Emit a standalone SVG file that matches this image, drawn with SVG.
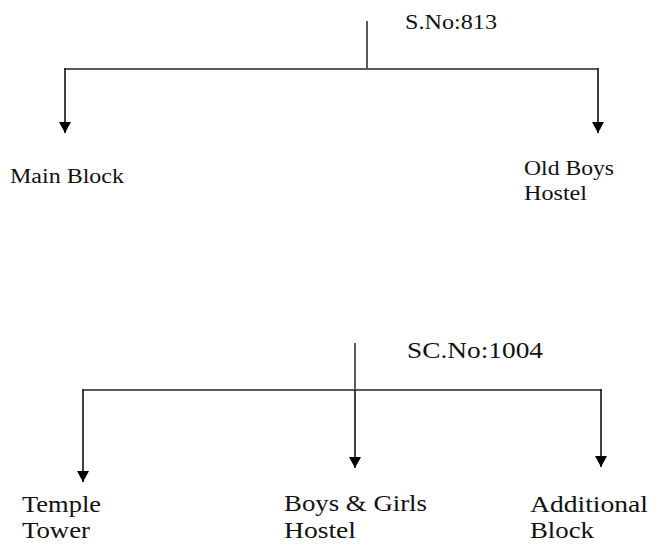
<svg xmlns="http://www.w3.org/2000/svg" width="653" height="544" viewBox="0 0 653 544">
<defs>
<marker id="ah" markerUnits="userSpaceOnUse" markerWidth="12" markerHeight="12" refX="11" refY="6" orient="auto">
<path d="M0,0 L11,6 L0,12 z" fill="#000"/>
</marker>
<style>
text{font-family:'Liberation Serif','DejaVu Serif',serif;fill:#111;}
.s{font-size:20.5px;}
.b{font-size:23px;}
.g{stroke:#5a5a5a;stroke-width:2;fill:none;}
.a{stroke:#111;stroke-width:1.6;fill:none;marker-end:url(#ah);}
</style>
</defs>
<rect width="653" height="544" fill="#fff"/>
<g id="connectors">
<path class="g" d="M367,21 V69 M65,69 H598"/>
<path class="a" d="M65,68 V133"/>
<path class="a" d="M598,68 V133"/>
<path class="g" d="M355,343 V390 M83,390 H601"/>
<path class="a" d="M83,389 V482"/>
<path class="a" d="M355,390 V468"/>
<path class="a" d="M601,389 V467"/>
</g>
<g id="n-sno813"><text class="s" x="405" y="29" textLength="92" lengthAdjust="spacingAndGlyphs">S.No:813</text></g>
<g id="n-mainblock"><text class="s" x="10" y="183" textLength="114" lengthAdjust="spacingAndGlyphs">Main Block</text></g>
<g id="n-oldboys"><text class="s" x="524" y="175" textLength="90" lengthAdjust="spacingAndGlyphs">Old Boys</text><text class="s" x="524" y="200" textLength="63" lengthAdjust="spacingAndGlyphs">Hostel</text></g>
<g id="n-scno1004"><text class="b" x="407" y="358" textLength="136" lengthAdjust="spacingAndGlyphs">SC.No:1004</text></g>
<g id="n-temple"><text class="b" x="22" y="512" textLength="79" lengthAdjust="spacingAndGlyphs">Temple</text><text class="b" x="22" y="538" textLength="68" lengthAdjust="spacingAndGlyphs">Tower</text></g>
<g id="n-boysgirls"><text class="b" x="284" y="511" textLength="143" lengthAdjust="spacingAndGlyphs">Boys &amp; Girls</text><text class="b" x="284" y="538" textLength="72" lengthAdjust="spacingAndGlyphs">Hostel</text></g>
<g id="n-additional"><text class="b" x="530" y="512" textLength="118" lengthAdjust="spacingAndGlyphs">Additional</text><text class="b" x="530" y="538" textLength="64" lengthAdjust="spacingAndGlyphs">Block</text></g>
</svg>
